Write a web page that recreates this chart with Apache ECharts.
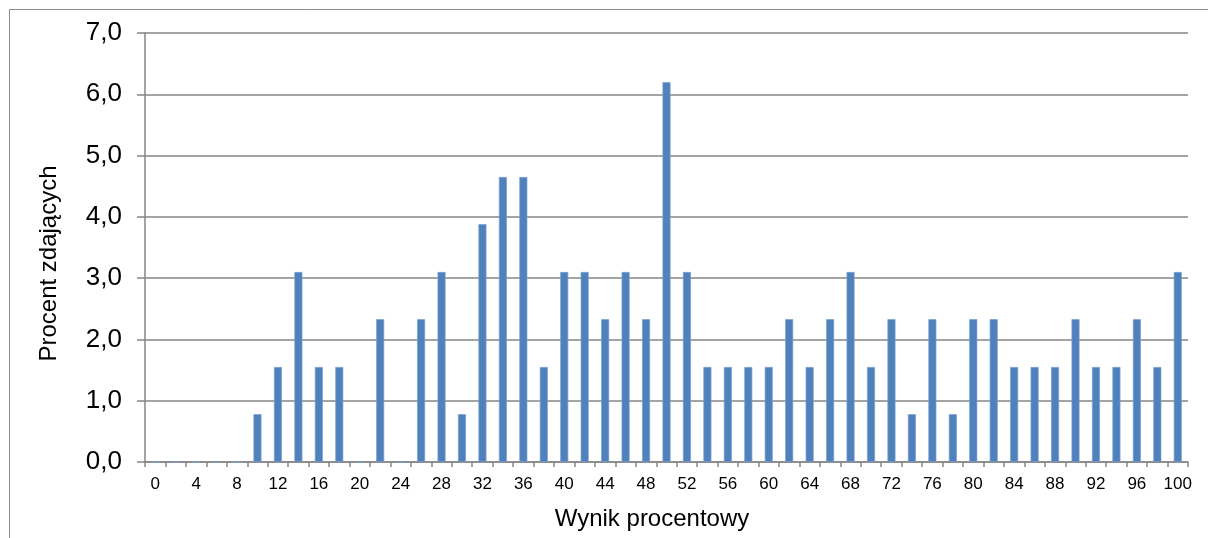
<!DOCTYPE html>
<html>
<head>
<meta charset="utf-8">
<script src="https://cdn.jsdelivr.net/npm/echarts@6/dist/echarts.min.js"></script>
<style>
html,body{margin:0;padding:0;background:#fff;}
#c{width:1208px;height:538px;}
</style>
</head>
<body>
<div id="c"></div>
<script>
const categories = ['0','2','4','6','8','10','12','14','16','18','20','22','24','26','28','30','32','34','36','38','40','42','44','46','48','50','52','54','56','58','60','62','64','66','68','70','72','74','76','78','80','82','84','86','88','90','92','94','96','98','100'];
const percentValues = [0,0,0,0,0,0.78,1.55,3.10,1.55,1.55,0,2.33,0,2.33,3.10,0.78,3.88,4.65,4.65,1.55,3.10,3.10,2.33,3.10,2.33,6.20,3.10,1.55,1.55,1.55,1.55,2.33,1.55,2.33,3.10,1.55,2.33,0.78,2.33,0.78,2.33,2.33,1.55,1.55,1.55,2.33,1.55,1.55,2.33,1.55,3.10];
const yTickLabels = ['0,0','1,0','2,0','3,0','4,0','5,0','6,0','7,0'];
const yAxisTitle = 'Procent zdających';
const xAxisTitle = 'Wynik procentowy';

const chart = echarts.init(document.getElementById('c'), null, {renderer:'canvas'});
const font = 'Liberation Sans';
chart.setOption({
  animation:false,
  backgroundColor:'#fff',
  graphic:[{type:'rect',shape:{x:9.5,y:9.5,width:1400,height:700},style:{fill:'none',stroke:'#8c8c8c',lineWidth:1},silent:true}],
  grid:{left:145,top:33,right:20,bottom:76,containLabel:false},
  xAxis:{
    type:'category',data:categories,boundaryGap:true,
    name:xAxisTitle,nameLocation:'middle',nameGap:45,
    nameTextStyle:{fontFamily:font,fontSize:24,color:'#000',padding:[0,29,0,0]},
    axisLine:{lineStyle:{color:'#868686',width:1.5}},
    axisTick:{show:true,interval:0,length:5,lineStyle:{color:'#868686',width:1.5}},
    axisLabel:{interval:1,fontFamily:font,fontSize:17,color:'#000',margin:14},
    splitLine:{show:false}
  },
  yAxis:{
    type:'value',min:0,max:7,interval:1,
    name:yAxisTitle,nameLocation:'middle',nameGap:84,nameRotate:90,
    nameTextStyle:{fontFamily:font,fontSize:24,color:'#000',padding:[0,32,0,0]},
    axisLine:{show:true,lineStyle:{color:'#868686',width:1.5}},
    axisTick:{show:true,length:8,lineStyle:{color:'#868686',width:1.5}},
    axisLabel:{fontFamily:font,fontSize:26,color:'#000',margin:23,formatter:v=>yTickLabels[Math.round(v)]},
    splitLine:{show:true,lineStyle:{color:'#868686',width:1.5}}
  },
  series:[{
    type:'bar',data:percentValues,barWidth:8,
    itemStyle:{color:'#4F81BD',borderColor:'#7B9FCF',borderWidth:0.7}
  }]
});
</script>
</body>
</html>
